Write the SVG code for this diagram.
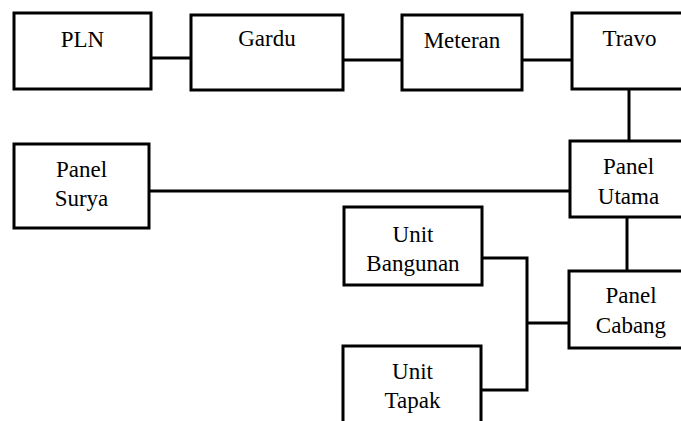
<svg xmlns="http://www.w3.org/2000/svg" width="681" height="421" viewBox="0 0 681 421">
<style>
.box{fill:#fff;stroke:#000;stroke-width:3}
.ln{fill:none;stroke:#000;stroke-width:3}
text{font-family:"Liberation Serif","Times New Roman",serif;font-size:23px;fill:#000;text-anchor:middle}
</style>
<rect width="681" height="421" fill="#fff"/>
<g id="connectors">
<line class="ln" x1="151" y1="58" x2="191" y2="58"/>
<line class="ln" x1="343" y1="60" x2="402" y2="60"/>
<line class="ln" x1="522" y1="60" x2="572" y2="60"/>
<line class="ln" x1="629" y1="89" x2="629" y2="141"/>
<line class="ln" x1="149" y1="191" x2="570" y2="191"/>
<line class="ln" x1="627" y1="217" x2="627" y2="271"/>
<polyline class="ln" points="482,258 527,258 527,390 480,390"/>
<line class="ln" x1="527" y1="323" x2="569" y2="323"/>
</g>
<g id="pln"><rect class="box" x="14" y="13" width="137" height="76"/><text x="82.5" y="47">PLN</text></g>
<g id="gardu"><rect class="box" x="191" y="15" width="152" height="75"/><text x="267" y="46">Gardu</text></g>
<g id="meteran"><rect class="box" x="402" y="15" width="120" height="75"/><text x="462" y="48">Meteran</text></g>
<g id="travo"><rect class="box" x="572" y="13" width="115" height="76"/><text x="629.5" y="46">Travo</text></g>
<g id="panel-surya"><rect class="box" x="14" y="144" width="135" height="84"/><text x="81.5" y="177">Panel</text><text x="81.5" y="206">Surya</text></g>
<g id="panel-utama"><rect class="box" x="570" y="141" width="117" height="76"/><text x="628.5" y="174">Panel</text><text x="628.5" y="204">Utama</text></g>
<g id="unit-bangunan"><rect class="box" x="344" y="207" width="138" height="78"/><text x="413" y="242">Unit</text><text x="413" y="271">Bangunan</text></g>
<g id="panel-cabang"><rect class="box" x="569" y="271" width="124" height="77"/><text x="631" y="303">Panel</text><text x="631" y="333">Cabang</text></g>
<g id="unit-tapak"><rect class="box" x="343" y="346" width="138" height="90"/><text x="412.5" y="379">Unit</text><text x="412.5" y="408">Tapak</text></g>
</svg>
